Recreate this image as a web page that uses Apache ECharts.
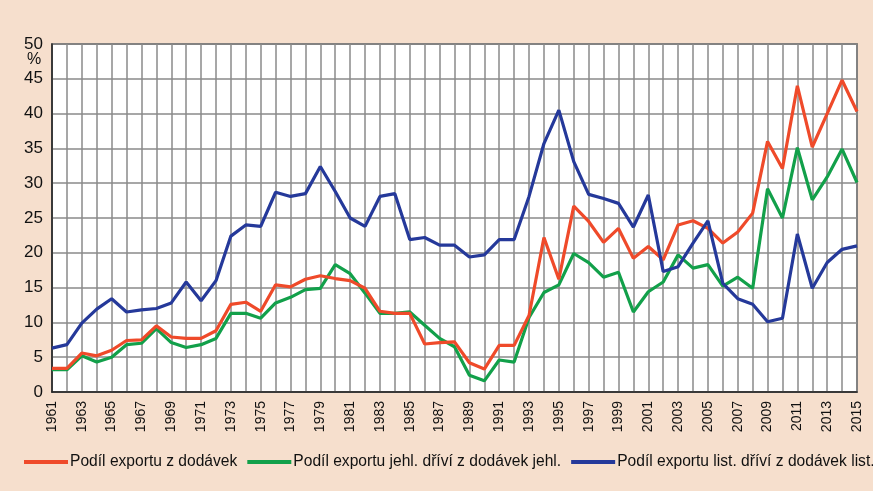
<!DOCTYPE html>
<html><head><meta charset="utf-8">
<script src="https://cdn.jsdelivr.net/npm/echarts@6/dist/echarts.min.js"></script>
<style>html,body{margin:0;padding:0;background:#f6dfcd;}#c{width:873px;height:491px;}</style>
</head><body><div id="c"></div>
<script>
const years = [];
for (let y = 1961; y <= 2015; y++) years.push(String(y));
const seriesNames = ['Podíl exportu z dodávek', 'Podíl exportu jehl. dříví z dodávek jehl.', 'Podíl exportu list. dříví z dodávek list.'];
const total = [3.4,3.4,5.6,5.2,6.0,7.4,7.5,9.5,7.9,7.7,7.7,8.8,12.6,12.9,11.6,15.4,15.1,16.2,16.7,16.3,16.0,14.9,11.6,11.3,11.3,6.9,7.1,7.2,4.2,3.3,6.7,6.7,11.0,22.2,16.2,26.7,24.5,21.5,23.5,19.2,20.9,19.0,24.0,24.6,23.5,21.4,23.0,25.7,36.0,32.1,44.0,35.2,40.0,44.8,40.3];
const conifer = [3.2,3.2,5.2,4.3,5.0,6.8,7.0,9.1,7.1,6.4,6.8,7.7,11.3,11.3,10.6,12.8,13.6,14.7,14.9,18.3,17.0,14.2,11.3,11.3,11.5,9.6,7.7,6.5,2.4,1.6,4.6,4.3,10.7,14.3,15.4,19.9,18.6,16.5,17.2,11.5,14.4,15.8,19.7,17.8,18.3,15.2,16.5,14.9,29.2,25.0,35.1,27.6,30.9,34.9,30.1];
const broadleaf = [6.3,6.8,9.9,11.9,13.4,11.5,11.8,12.0,12.8,15.8,13.1,16.0,22.4,24.0,23.8,28.7,28.1,28.5,32.4,28.8,25.0,23.8,28.1,28.5,21.9,22.2,21.1,21.1,19.4,19.7,21.9,21.9,28.1,35.7,40.5,33.1,28.4,27.8,27.1,23.7,28.3,17.3,18.0,21.4,24.6,15.6,13.4,12.6,10.1,10.6,22.7,14.9,18.6,20.5,21.0];
const colors = ['#ef4a2a', '#12a04a', '#25399a'];
const font = '"Liberation Sans", Arial, sans-serif';

const chart = echarts.init(document.getElementById('c'));
chart.setOption({
  backgroundColor: '#f6dfcd',
  animation: false,
  color: colors,
  grid: {left: 52, right: 16, top: 44, bottom: 99, show: true, backgroundColor: '#fff', borderColor: '#444', borderWidth: 1.5},
  legend: {
    top: 454, left: 24, width: 870, padding: 0, itemWidth: 44, itemHeight: 4, itemGap: 10,
    icon: 'rect',
    textStyle: {fontFamily: font, fontSize: 15.6, color: '#111', padding: [0,0,0,-3]},
    data: seriesNames
  },
  xAxis: {
    type: 'category', data: years, boundaryGap: false,
    axisLine: {lineStyle: {color: '#222', width: 1.5}},
    axisTick: {show: false},
    axisLabel: {rotate: 90, interval: 1, fontFamily: font, fontSize: 14, color: '#111', margin: 9},
    splitLine: {show: true, interval: 0, lineStyle: {color: '#8a8a8a', width: 1.5}}
  },
  yAxis: {
    type: 'value', min: 0, max: 50, interval: 5,
    axisLine: {show: true, lineStyle: {color: '#222', width: 1.5}},
    axisTick: {show: false},
    axisLabel: {fontFamily: font, fontSize: 17, color: '#111', margin: 9},
    splitLine: {lineStyle: {color: '#8a8a8a', width: 1.5}}
  },
  graphic: [{type: 'text', left: 27, top: 52, style: {text: '%', font: '16px ' + font, fill: '#111'}}],
  series: [
    {name: seriesNames[0], type: 'line', data: total, symbol: 'none', lineStyle: {width: 3.2}, z: 3},
    {name: seriesNames[1], type: 'line', data: conifer, symbol: 'none', lineStyle: {width: 3.2}, z: 2},
    {name: seriesNames[2], type: 'line', data: broadleaf, symbol: 'none', lineStyle: {width: 3.2}, z: 4}
  ]
});
</script></body></html>
